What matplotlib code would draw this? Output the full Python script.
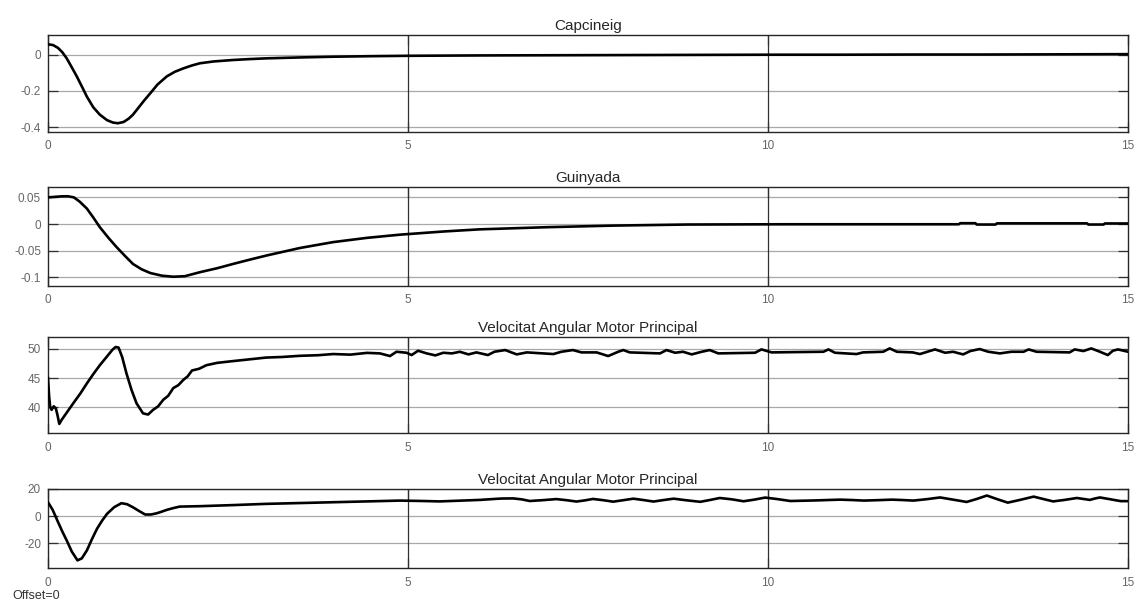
import matplotlib
matplotlib.use("Agg")
import matplotlib.pyplot as plt

plt.rcParams["font.family"] = ["Liberation Sans", "DejaVu Sans"]
plt.rcParams["axes.unicode_minus"] = False

# ---- Capcineig (pitch) ----
t_pitch = [0, 0.07, 0.14, 0.2, 0.26, 0.33, 0.4, 0.47, 0.54, 0.63, 0.72, 0.82,
           0.9, 0.97, 1.05, 1.12, 1.18, 1.26, 1.34, 1.42, 1.52, 1.65, 1.76,
           1.88, 2.0, 2.11, 2.3, 2.57, 2.8, 3.03, 3.5, 3.96, 4.5, 5.0, 6, 7,
           8, 9, 10, 11, 12, 13, 14, 15]
v_pitch = [0.056, 0.052, 0.036, 0.012, -0.021, -0.07, -0.12, -0.175, -0.231,
           -0.29, -0.33, -0.36, -0.373, -0.377, -0.37, -0.352, -0.33, -0.29,
           -0.25, -0.213, -0.165, -0.12, -0.095, -0.076, -0.06, -0.048,
           -0.038, -0.03, -0.025, -0.021, -0.016, -0.012, -0.009, -0.007,
           -0.005, -0.004, -0.003, -0.002, -0.001, -0.001, 0.0, 0.0, 0.001,
           0.002]

# ---- Guinyada (yaw) ----
t_yaw = [0, 0.1, 0.2, 0.28, 0.36, 0.44, 0.54, 0.63, 0.72, 0.84, 0.95, 1.07,
         1.18, 1.3, 1.42, 1.58, 1.74, 1.9, 2.11, 2.35, 2.57, 2.8, 3.04, 3.5,
         3.96, 4.43, 4.89, 5.5, 6.0, 6.93, 7.85, 8.87, 10.2, 12.65, 12.67,
         12.88, 12.9, 13.16, 13.18, 14.43, 14.45, 14.66, 14.68, 15]
v_yaw = [0.05, 0.051, 0.052, 0.052, 0.05, 0.042, 0.029, 0.012, -0.006, -0.026,
         -0.043, -0.06, -0.075, -0.085, -0.092, -0.097, -0.099, -0.098,
         -0.0905, -0.083, -0.075, -0.067, -0.059, -0.045, -0.034, -0.026,
         -0.02, -0.014, -0.010, -0.006, -0.003, -0.001, -0.0005, -0.0005,
         0.0015, 0.0015, -0.001, -0.001, 0.0012, 0.0012, -0.001, -0.001,
         0.001, 0.001]

# ---- Velocitat Angular Motor Principal (first) ----
t_w1 = [0, 0.015, 0.03, 0.05, 0.08, 0.11, 0.13, 0.157, 0.19, 0.27, 0.35,
        0.45, 0.54, 0.63, 0.72, 0.82, 0.9, 0.94, 0.98, 1.03, 1.09, 1.16,
        1.23, 1.32, 1.39, 1.46, 1.53, 1.6, 1.67, 1.74, 1.81, 1.88, 1.94,
        2.0, 2.1, 2.2, 2.35, 2.57, 2.8, 3.03, 3.25, 3.5, 3.75, 3.96, 4.2,
        4.43, 4.61, 4.75, 4.84, 4.98, 5.05, 5.14, 5.26, 5.38, 5.49, 5.61,
        5.72, 5.84, 5.95, 6.11, 6.2, 6.35, 6.51, 6.65, 7.02, 7.13, 7.29,
        7.41, 7.62, 7.78, 7.92, 7.99, 8.08, 8.5, 8.59, 8.71, 8.82, 8.94,
        9.08, 9.19, 9.31, 9.82, 9.91, 10.05, 10.77, 10.84, 10.93, 11.23,
        11.32, 11.6, 11.69, 11.79, 12.01, 12.11, 12.32, 12.46, 12.57,
        12.71, 12.81, 12.94, 13.06, 13.22, 13.38, 13.55, 13.62, 13.73,
        14.19, 14.26, 14.38, 14.49, 14.61, 14.72, 14.79, 14.86, 15.0]
v_w1 = [45, 42, 40.1, 39.6, 40.2, 39.8, 38.8, 37.2, 37.9, 39.3, 40.7, 42.4,
        44.1, 45.7, 47.2, 48.7, 49.9, 50.3, 50.2, 48.6, 45.8, 43.0, 40.7,
        39.0, 38.8, 39.6, 40.2, 41.3, 42.0, 43.3, 43.8, 44.7, 45.3, 46.3,
        46.6, 47.2, 47.6, 47.9, 48.2, 48.5, 48.6, 48.8, 48.9, 49.1, 49.0,
        49.3, 49.21, 48.76, 49.49, 49.32, 48.93, 49.66, 49.21, 48.87,
        49.32, 49.21, 49.49, 49.04, 49.38, 48.93, 49.49, 49.78, 49.04,
        49.38, 49.10, 49.49, 49.78, 49.38, 49.38, 48.76, 49.49, 49.78,
        49.38, 49.21, 49.78, 49.32, 49.49, 49.04, 49.49, 49.78, 49.21,
        49.32, 49.89, 49.38, 49.49, 49.89, 49.32, 49.10, 49.38, 49.49,
        50.06, 49.49, 49.38, 49.10, 49.89, 49.32, 49.49, 49.04, 49.61,
        49.95, 49.49, 49.21, 49.49, 49.49, 49.89, 49.49, 49.38, 49.89,
        49.61, 50.06, 49.49, 48.93, 49.66, 49.89, 49.49]

# ---- Velocitat Angular Motor Principal (second) ----
t_w2 = [0, 0.065, 0.14, 0.2, 0.26, 0.33, 0.41, 0.47, 0.54, 0.61, 0.68,
        0.75, 0.82, 0.92, 1.02, 1.1, 1.18, 1.27, 1.35, 1.43, 1.51, 1.58,
        1.65, 1.74, 1.83, 2.11, 2.57, 3.03, 3.5, 3.96, 4.43, 4.89, 5.2,
        5.44, 5.7, 6.0, 6.2, 6.3, 6.46, 6.58, 6.69, 6.87, 7.06, 7.2, 7.34,
        7.45, 7.57, 7.71, 7.85, 7.99, 8.13, 8.27, 8.41, 8.55, 8.69, 8.87,
        9.06, 9.2, 9.33, 9.5, 9.66, 9.81, 9.96, 10.13, 10.31, 10.65, 11.0,
        11.17, 11.33, 11.52, 11.72, 11.87, 12.02, 12.2, 12.39, 12.57, 12.76,
        12.9, 13.04, 13.18, 13.33, 13.5, 13.69, 13.82, 13.96, 14.12, 14.29,
        14.38, 14.47, 14.54, 14.61, 14.75, 14.9, 15.0]
v_w2 = [10.1, 4.5, -4.5, -11.5, -17.9, -26.0, -32.5, -31.0, -25.2, -17.0,
        -9.4, -3.5, 1.6, 6.5, 9.4, 8.6, 6.4, 3.5, 1.1, 1.1, 2.0, 3.2, 4.5,
        5.8, 6.9, 7.2, 8.0, 8.9, 9.5, 10.1, 10.7, 11.3, 11.0, 10.7, 11.2,
        11.8, 12.5, 12.8, 12.9, 12.2, 11.0, 11.6, 12.4, 11.6, 10.6, 11.4,
        12.5, 11.6, 10.5, 11.6, 12.7, 11.7, 10.6, 11.7, 12.7, 11.5, 10.4,
        11.8, 13.2, 12.2, 10.8, 12.0, 13.5, 12.4, 11.0, 11.4, 12.0, 11.7,
        11.3, 11.6, 12.0, 11.7, 11.3, 12.3, 13.6, 12.0, 10.3, 12.5, 15.0,
        12.4, 9.8, 11.8, 14.2, 12.5, 10.7, 11.8, 13.2, 12.5, 11.8, 12.8,
        13.6, 12.3, 10.9, 10.9]

panels = [
    ("Capcineig", t_pitch, v_pitch, (-0.425, 0.107), [-0.4, -0.2, 0],
     ["-0.4", "-0.2", "0"]),
    ("Guinyada", t_yaw, v_yaw, (-0.1164, 0.07), [-0.1, -0.05, 0, 0.05],
     ["-0.1", "-0.05", "0", "0.05"]),
    ("Velocitat Angular Motor Principal", t_w1, v_w1, (35.6, 52.0),
     [40, 45, 50], ["40", "45", "50"]),
    ("Velocitat Angular Motor Principal", t_w2, v_w2, (-38.3, 20.0),
     [-20, 0, 20], ["-20", "0", "20"]),
]

# axes rectangles [left, bottom, width, height] in figure fractions
rects = [
    [0.04225, 0.7829, 0.9507, 0.1595],
    [0.04225, 0.5296, 0.9507, 0.1633],
    [0.04225, 0.2873, 0.9507, 0.1584],
    [0.04225, 0.0653, 0.9507, 0.1309],
]

fig = plt.figure(figsize=(11.36, 6.08), dpi=100)
fig.patch.set_facecolor("white")

for (title, t, v, ylim, yt, ytl), rect in zip(panels, rects):
    ax = fig.add_axes(rect)
    for yv in yt:
        ax.axhline(yv, color="#a8a8a8", lw=0.9, zorder=1)
    for xv in (5, 10):
        ax.axvline(xv, color="#303030", lw=0.9, zorder=1)
    ax.plot(t, v, color="black", lw=1.9, zorder=3, solid_joinstyle="round")
    ax.set_xlim(0, 15)
    ax.set_ylim(*ylim)
    ax.set_xticks([0, 5, 10, 15])
    ax.set_xticklabels(["0", "5", "10", "15"])
    ax.set_yticks(yt)
    ax.set_yticklabels(ytl)
    ax.tick_params(direction="in", length=7, width=0.9, color="#303030",
                   labelsize=8.5, labelcolor="#666666", top=True, right=True)
    ax.tick_params(axis="y", pad=5)
    ax.tick_params(axis="x", pad=6)
    for s in ax.spines.values():
        s.set_color("#262626")
        s.set_linewidth(1.0)
    ax.set_title(title, fontsize=11, color="#262626", pad=3.5)

fig.text(12 / 1136, 1 - 596 / 608, "Offset=0", fontsize=9, color="#333333",
         va="center", ha="left")

fig.savefig("out.png", dpi=100)
